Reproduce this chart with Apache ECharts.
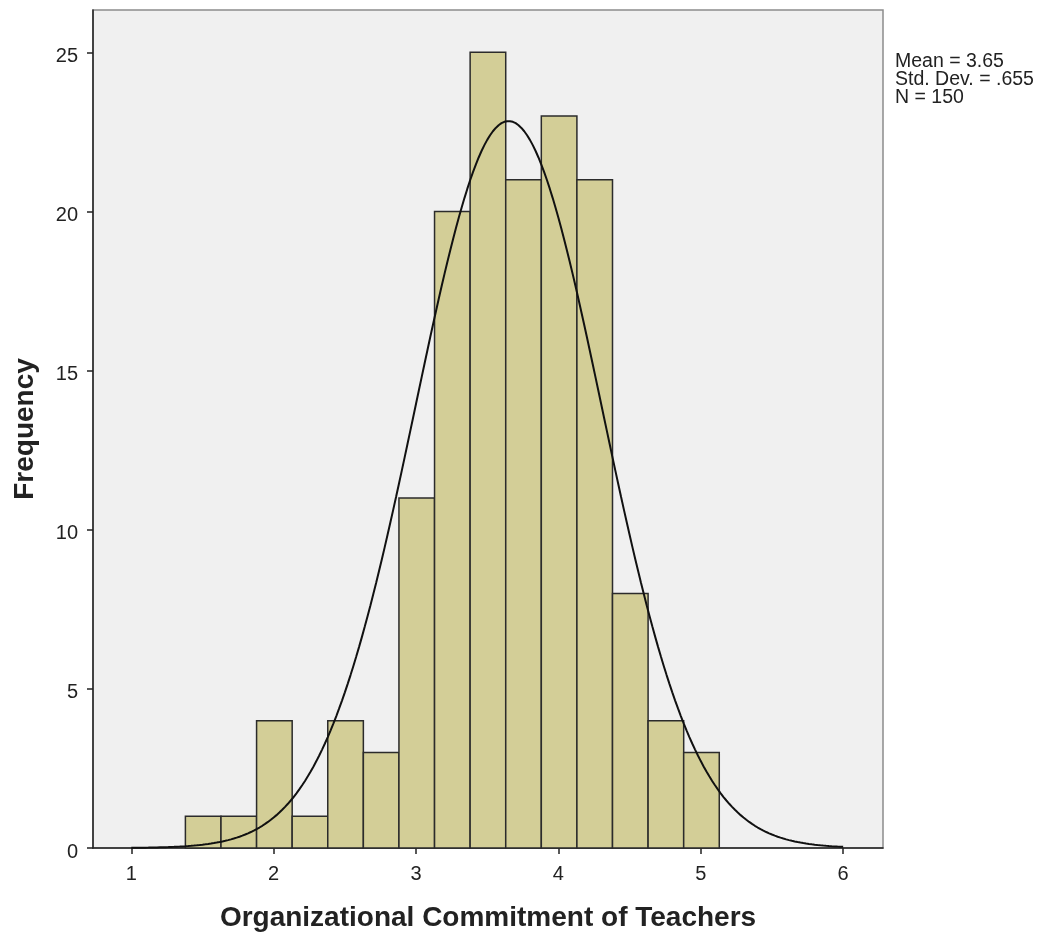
<!DOCTYPE html>
<html>
<head>
<meta charset="utf-8">
<script src="https://cdn.jsdelivr.net/npm/echarts@6/dist/echarts.min.js"></script>
<style>
  html, body { margin: 0; padding: 0; background: #ffffff; }
  #chart { width: 1046px; height: 937px; }
</style>
</head>
<body>
<div id="chart"></div>
<script>
// Histogram bins: left edge of first bin, bin width, and counts per bin
const binStart = 1.38;
const binWidth = 0.25;
const binCounts = [1, 1, 4, 1, 4, 3, 11, 20, 25, 21, 23, 21, 8, 4, 3];

// Summary statistics shown beside the plot
const statMean = 3.65;
const statSd = 0.655;
const statN = 150;

// Axis tick values
const xTicks = [1, 2, 3, 4, 5, 6];
const yTicks = [0, 5, 10, 15, 20, 25];

const xTitle = 'Organizational Commitment of Teachers';
const yTitle = 'Frequency';

// Bars as [left edge, right edge, count]
const bins = binCounts.map((c, i) => [binStart + i * binWidth, binStart + (i + 1) * binWidth, c]);

// Fitted normal curve scaled to frequency per bin
const curve = [];
for (let x = 1.0; x <= 6.0001; x += 0.02) {
  const z = (x - statMean) / statSd;
  const y = statN * binWidth / (statSd * Math.sqrt(2 * Math.PI)) * Math.exp(-0.5 * z * z);
  curve.push([x, y]);
}

const font = 'Liberation Sans, Arial, sans-serif';
const chart = echarts.init(document.getElementById('chart'), null, { renderer: 'canvas' });

chart.setOption({
  animation: false,
  backgroundColor: '#ffffff',
  title: {
    left: 895,
    top: 53,
    padding: 0,
    text: 'Mean = ' + statMean.toFixed(2) + '\nStd. Dev. = ' + String(statSd).replace(/^0/, '') + '\nN = ' + statN,
    textStyle: { fontFamily: font, fontSize: 19.5, fontWeight: 'normal', color: '#222', lineHeight: 18 }
  },
  grid: {
    left: 93, right: 163, top: 10, bottom: 88,
    show: true, backgroundColor: '#f0f0f0', borderColor: '#8c8c8c', borderWidth: 1.5
  },
  xAxis: {
    type: 'value',
    min: 0.731, max: 6.28,
    name: xTitle,
    nameLocation: 'middle',
    nameGap: 56,
    nameTextStyle: { fontFamily: font, fontSize: 28, fontWeight: 'bold', color: '#222' },
    axisLine: { show: true, onZero: false, lineStyle: { color: '#222', width: 1.5 } },
    axisTick: { show: true, length: 6, customValues: xTicks, lineStyle: { color: '#222', width: 1.5 } },
    axisLabel: { customValues: xTicks, margin: 16, fontFamily: font, fontSize: 20, color: '#222' },
    splitLine: { show: false }
  },
  yAxis: {
    type: 'value',
    min: 0, max: 26.33,
    name: yTitle,
    nameLocation: 'middle',
    nameGap: 54,
    nameRotate: 90,
    nameTextStyle: { fontFamily: font, fontSize: 28, fontWeight: 'bold', color: '#222' },
    axisLine: { show: true, lineStyle: { color: '#222', width: 1.5 } },
    axisTick: { show: true, length: 6, customValues: yTicks, lineStyle: { color: '#222', width: 1.5 } },
    axisLabel: { customValues: yTicks, margin: 15, verticalAlign: 'top', lineHeight: 8, fontFamily: font, fontSize: 20, color: '#222' },
    splitLine: { show: false }
  },
  series: [
    {
      type: 'custom',
      data: bins,
      encode: { x: [0, 1], y: 2 },
      renderItem: function (params, api) {
        const p0 = api.coord([api.value(0), 0]);
        const p1 = api.coord([api.value(1), api.value(2)]);
        return {
          type: 'rect',
          shape: { x: p0[0], y: p1[1], width: p1[0] - p0[0], height: p0[1] - p1[1] },
          style: { fill: '#d3ce97', stroke: '#2b2b2b', lineWidth: 1.5 }
        };
      },
      z: 2
    },
    {
      type: 'line',
      data: curve,
      showSymbol: false,
      smooth: false,
      lineStyle: { color: '#111', width: 2 },
      z: 3
    }
  ]
});
</script>
</body>
</html>
